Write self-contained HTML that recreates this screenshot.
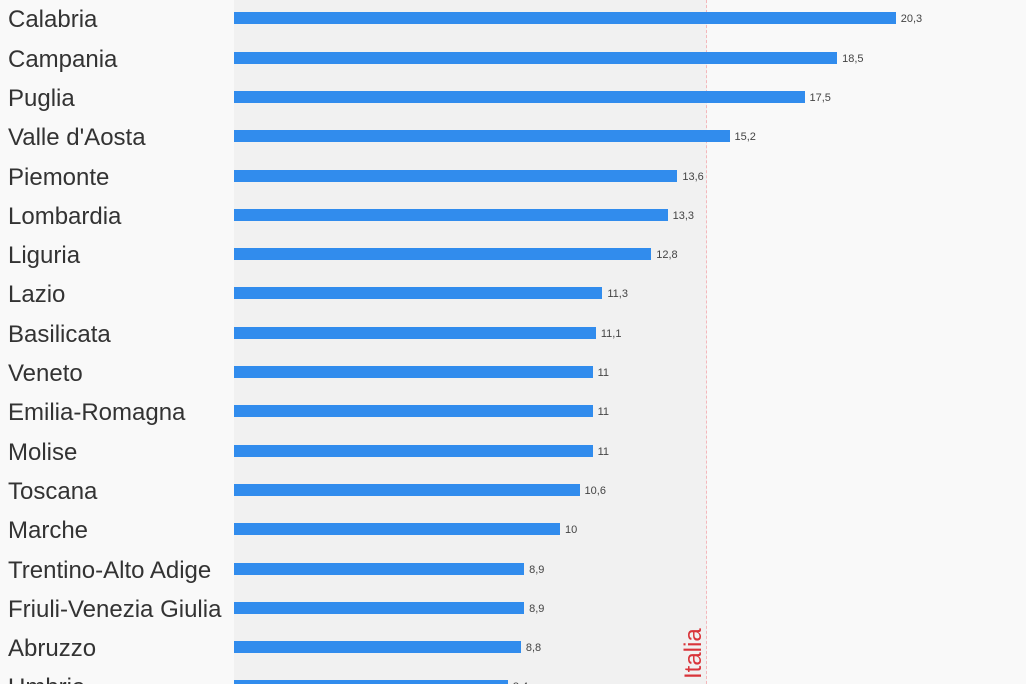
<!DOCTYPE html>
<html style="overflow:hidden;height:684px"><head><style>
body{margin:0;width:1026px;height:684px;overflow:hidden;background:#f9f9f9;font-family:"Liberation Sans",sans-serif;position:relative}
.sh{position:absolute;left:234px;top:0;width:473px;height:684px;background:#f1f1f1}
.ln{position:absolute;left:706px;top:0;height:684px;border-left:1px dashed #f3b8bb}
.l{position:absolute;left:8px;font-size:24px;color:#333;line-height:26px;white-space:nowrap}
.b{position:absolute;left:234px;height:12px;background:#318ced}
.v{position:absolute;font-size:11px;color:#444;line-height:12px}
.it{position:absolute;left:682px;top:679px;transform-origin:0 0;transform:rotate(-90deg);color:#d9343a;font-size:24px;line-height:24px;white-space:nowrap}
#c{position:absolute;left:0;top:0;width:1026px;height:684px;overflow:hidden}
</style></head><body>
<div class="sh"></div><div class="ln"></div>
<div id="c"></div>
<div class="it">Italia</div>
<script>
var d=[["Calabria",20.3,"20,3"],["Campania",18.5,"18,5"],["Puglia",17.5,"17,5"],["Valle d'Aosta",15.2,"15,2"],["Piemonte",13.6,"13,6"],["Lombardia",13.3,"13,3"],["Liguria",12.8,"12,8"],["Lazio",11.3,"11,3"],["Basilicata",11.1,"11,1"],["Veneto",11,"11"],["Emilia-Romagna",11,"11"],["Molise",11,"11"],["Toscana",10.6,"10,6"],["Marche",10,"10"],["Trentino-Alto Adige",8.9,"8,9"],["Friuli-Venezia Giulia",8.9,"8,9"],["Abruzzo",8.8,"8,8"],["Umbria",8.4,"8,4"]];
var h="";
d.forEach(function(r,i){var t=12.3+39.3*i;var w=r[1]*32.6;
h+='<div class="l" style="top:'+(t-5)+'px">'+r[0]+'</div><div class="b" style="top:'+t+'px;width:'+w+'px"></div><div class="v" style="top:'+(t+1)+'px;left:'+(234+w+5)+'px">'+r[2]+'</div>';});
document.getElementById("c").innerHTML=h;
</script>
</body></html>
